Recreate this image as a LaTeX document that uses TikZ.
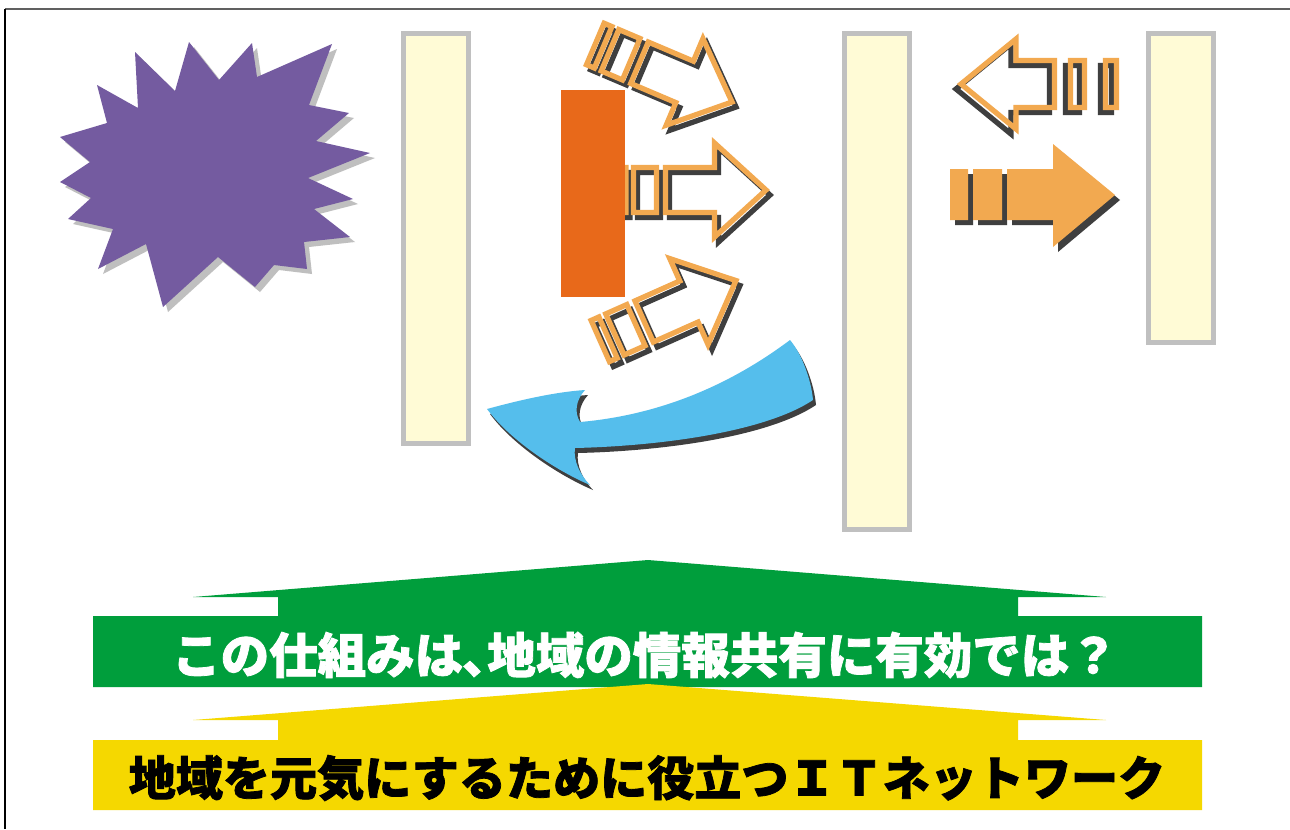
\documentclass[tikz,border=0pt]{standalone}
\usepackage{fontspec}
\newfontfamily\jpfont{Noto Sans CJK JP}[BoldFeatures={FakeBold=1.6}]
\definecolor{burst}{HTML}{745BA0}
\definecolor{burstshadow}{HTML}{BFBFBF}
\definecolor{barfill}{HTML}{FFFBD6}
\definecolor{barline}{HTML}{C0C0C0}
\definecolor{orangeblock}{HTML}{E8691A}
\definecolor{arrowor}{HTML}{F2A950}
\definecolor{shadowdark}{HTML}{3F3F3F}
\definecolor{bluearr}{HTML}{55BEEC}
\definecolor{greenarr}{HTML}{009E3C}
\definecolor{yellowarr}{HTML}{F5D800}
\definecolor{framegray}{HTML}{606060}
\begin{document}
\begin{tikzpicture}[x=0.02cm,y=-0.02cm,
  barbox/.style={draw=barline,fill=barfill,line width=2.8pt},
  hollowline/.style={line width=3pt,line join=miter,miter limit=10},
  hollowarrow/.pic={
    \draw[hollowline,pic actions]
      (2.5,-22.5) -- (11,-22.5) -- (11,22.5) -- (2.5,22.5) -- cycle
      (18.5,-22.5) -- (41.5,-22.5) -- (41.5,22.5) -- (18.5,22.5) -- cycle
      (50.5,-22.5) -- (99.5,-22.5) -- (99.5,-47) -- (151,0) -- (99.5,47) -- (99.5,22.5) -- (50.5,22.5) -- cycle;
  },
  bigtext/.style={font=\jpfont\bfseries,inner sep=0pt}
]
\useasboundingbox (0,0) rectangle (1290,829);
\fill[white] (0,0) rectangle (1290,829);
% frame lines
\draw[framegray,line width=0.8pt] (5,9) -- (1290,9);
\draw[black,line width=0.8pt] (5,9) -- (5,829);

% starburst
\def\burstpath{(60,137) -- (90,162) -- (60,182) -- (91,198) -- (68,219) -- (113,229) -- (98,269) -- (146,244) -- (163,307) -- (218,257) -- (255,287) -- (274,265) -- (307,269) -- (304,242) -- (350,237) -- (314,209) -- (353,199) -- (308,178) -- (370,153) -- (316,141) -- (349,113) -- (309,105) -- (332,44) -- (257,77) -- (252,43) -- (219,80) -- (189,42) -- (175,91) -- (135,52) -- (138,108) -- (97,85) -- (107,123) -- cycle}
\fill[burstshadow,shift={(5,5)}] \burstpath;
\fill[burst] \burstpath;

% bars
\draw[barbox] (403.5,33.5) rectangle (468.5,443.5);
\draw[barbox] (844.5,33.5) rectangle (909.5,529.5);
\draw[barbox] (1148.5,33.5) rectangle (1213.5,342.5);

% hollow arrows: shadows then outlines
\pic[draw=shadowdark,rotate=-23] at (597,48) {hollowarrow};
\pic[draw=shadowdark] at (619,195) {hollowarrow};
\pic[draw=shadowdark,rotate=24] at (602,347) {hollowarrow};
\pic[draw=arrowor,rotate=-23] at (593,43) {hollowarrow};
\pic[draw=arrowor] at (615,190) {hollowarrow};
\pic[draw=arrowor,rotate=24] at (598,342) {hollowarrow};

% orange block
\fill[orangeblock] (561,90) rectangle (625,297);

% left-pointing hollow arrow
\def\leftarr{(1054.5,60.5) -- (1016,60.5) -- (1016,39) -- (961,84) -- (1016,129) -- (1016,107.5) -- (1054.5,107.5) -- cycle
  (1070.5,60.5) -- (1084.5,60.5) -- (1084.5,107.5) -- (1070.5,107.5) -- cycle
  (1105.5,60.5) -- (1116.5,60.5) -- (1116.5,107.5) -- (1105.5,107.5) -- cycle}
\draw[hollowline,shadowdark,shift={(-5,5)}] \leftarr;
\draw[hollowline,arrowor] \leftarr;

% solid right arrow
\def\solidarr{(950,169) rectangle (968,220) (973,169) rectangle (1002,220)
  (1007,169) -- (1053,169) -- (1053,144) -- (1115,195) -- (1053,247) -- (1053,220) -- (1007,220) -- cycle}
\fill[shadowdark,shift={(5,5)}] \solidarr;
\fill[arrowor] \solidarr;

% blue curved arrow
\def\bluepath{(790,340) .. controls (801,353) and (811,378) .. (813,400)
  .. controls (765,432) and (660,446) .. (575,448)
  .. controls (573,460) and (580,475) .. (590,485)
  .. controls (555,470) and (510,440) .. (487,409)
  .. controls (520,400) and (555,392) .. (585,390)
  .. controls (576,400) and (574,412) .. (580,422)
  .. controls (660,415) and (730,385) .. (790,340) -- cycle}
\fill[shadowdark,shift={(3,5)}] \bluepath;
\fill[bluearr] \bluepath;

% green arrow
\fill[greenarr] (93,616) -- (278,616) -- (278,597) -- (193,597) -- (648,560) -- (1106,597) -- (1018,597) -- (1018,616) -- (1202,616) -- (1202,687) -- (93,687) -- cycle;
% yellow arrow
\fill[yellowarr] (93,740) -- (278,740) -- (278,720) -- (193,720) -- (648,684) -- (1106,720) -- (1018,720) -- (1018,740) -- (1202,740) -- (1202,810) -- (93,810) -- cycle;

\node[bigtext,text=white,font=\jpfont\bfseries\fontsize{27.6pt}{32pt}\selectfont] (q) at (645,655) {この仕組みは､地域の情報共有に有効では？};
\node[bigtext,text=black,font=\jpfont\bfseries\fontsize{26.8pt}{32pt}\selectfont] (t) at (647,778) {地域を元気にするために役立つＩＴネットワーク};
\end{tikzpicture}
\end{document}
